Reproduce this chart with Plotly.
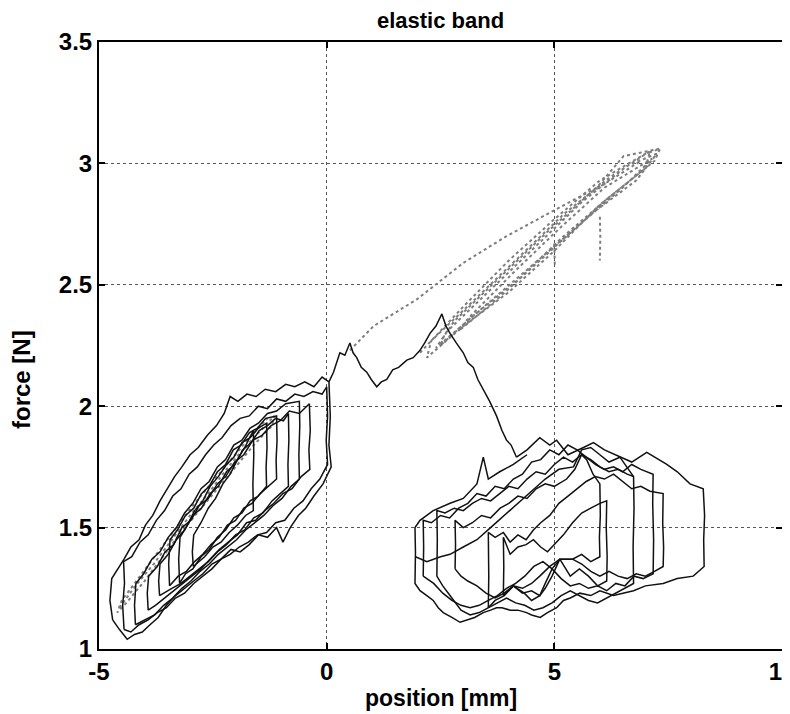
import plotly.graph_objects as go

# ---------------- data (position [mm], force [N]) ----------------
x_ticks = [-5, 0, 5, 10]
x_tick_labels = ["-5", "0", "5", "10"]
y_ticks = [1, 1.5, 2, 2.5, 3, 3.5]
y_tick_labels = ["1", "1.5", "2", "2.5", "3", "3.5"]

# left cluster of hysteresis loops (black)
left_a = [(-4.70,1.12),(-4.76,1.20),(-4.72,1.29),(-4.58,1.33),(-4.45,1.37),(-4.30,1.42),(-4.12,1.45),(-3.98,1.51),
          (-3.82,1.55),(-3.66,1.61),(-3.50,1.66),(-3.34,1.71),(-3.18,1.75),(-3.00,1.80),(-2.82,1.83),(-2.62,1.88),
          (-2.42,1.92),(-2.25,1.97),(-2.12,2.04),(-1.95,2.02),(-1.75,2.05),(-1.55,2.04),(-1.35,2.07),(-1.12,2.06),
          (-0.90,2.09),(-0.70,2.08),(-0.48,2.10),(-0.28,2.08),(-0.10,2.12),(0.05,2.10),(0.08,1.96),(0.05,1.84),
          (0.10,1.75),(-0.08,1.68),(-0.28,1.63),(-0.46,1.58),(-0.62,1.55),(-0.80,1.50),(-0.96,1.44),(-1.10,1.50),
          (-1.30,1.46),(-1.50,1.47),(-1.70,1.43),(-1.90,1.40),(-2.10,1.41),(-2.32,1.37),(-2.52,1.35),(-2.72,1.31),
          (-2.92,1.28),(-3.12,1.25),(-3.32,1.22),(-3.52,1.18),(-3.70,1.13),(-3.88,1.10),(-4.05,1.07),(-4.22,1.06),
          (-4.38,1.04),(-4.55,1.08),(-4.70,1.12)]
left_b = [(-3.92,1.16),(-3.94,1.23),(-3.91,1.30),(-3.72,1.34),(-3.55,1.40),(-3.36,1.43),(-3.18,1.50),(-2.98,1.53),
          (-2.80,1.59),(-2.60,1.62),(-2.40,1.68),(-2.22,1.71),(-2.02,1.77),(-1.82,1.80),(-1.62,1.86),(-1.42,1.88),
          (-1.22,1.92),(-1.02,1.94),(-0.82,1.98),(-0.60,1.97),(-0.38,2.01),(-0.36,1.90),(-0.39,1.82),(-0.37,1.74),
          (-0.56,1.71),(-0.76,1.66),(-0.96,1.64),(-1.16,1.60),(-1.36,1.57),(-1.56,1.53),(-1.76,1.52),(-1.96,1.47),
          (-2.16,1.44),(-2.36,1.41),(-2.56,1.37),(-2.76,1.33),(-2.96,1.30),(-3.16,1.27),(-3.36,1.24),(-3.56,1.21),
          (-3.76,1.18),(-3.92,1.16)]
left_c = [(-3.67,1.22),(-3.69,1.28),(-3.66,1.35),(-3.48,1.39),(-3.30,1.45),(-3.12,1.49),(-2.94,1.55),(-2.75,1.58),
          (-2.56,1.64),(-2.38,1.67),(-2.20,1.73),(-2.02,1.76),(-1.84,1.82),(-1.66,1.85),(-1.48,1.90),(-1.30,1.92),
          (-1.12,1.95),(-0.95,1.94),(-0.84,1.97),(-0.83,1.86),(-0.85,1.76),(-0.84,1.67),(-1.02,1.64),(-1.20,1.61),
          (-1.40,1.56),(-1.60,1.54),(-1.80,1.49),(-2.00,1.47),(-2.20,1.43),(-2.40,1.40),(-2.60,1.36),(-2.80,1.33),
          (-3.00,1.30),(-3.20,1.27),(-3.40,1.25),(-3.67,1.22)]
left_d = [(-3.45,1.26),(-3.47,1.35),(-3.44,1.45),(-3.28,1.49),(-3.10,1.55),(-2.92,1.58),(-2.75,1.64),(-2.58,1.67),
          (-2.40,1.73),(-2.22,1.76),(-2.05,1.82),(-1.88,1.84),(-1.70,1.89),(-1.52,1.91),(-1.34,1.95),(-1.10,1.96),
          (-1.09,1.86),(-1.11,1.78),(-1.10,1.70),(-1.28,1.67),(-1.46,1.64),(-1.64,1.60),(-1.82,1.58),(-2.00,1.53),
          (-2.18,1.51),(-2.36,1.46),(-2.54,1.43),(-2.72,1.39),(-2.90,1.36),(-3.08,1.32),(-3.26,1.30),(-3.45,1.26)]
left_e = [(-3.23,1.27),(-3.25,1.37),(-3.22,1.46),(-3.06,1.51),(-2.90,1.57),(-2.72,1.61),(-2.56,1.67),(-2.38,1.71),
          (-2.20,1.76),(-2.04,1.79),(-1.86,1.85),(-1.68,1.87),(-1.50,1.91),(-1.32,1.93),(-1.31,1.83),(-1.33,1.75),
          (-1.32,1.67),(-1.50,1.63),(-1.68,1.61),(-1.86,1.56),(-2.04,1.54),(-2.22,1.49),(-2.40,1.46),(-2.58,1.41),
          (-2.76,1.38),(-2.94,1.33),(-3.10,1.31),(-3.23,1.27)]
left_f = [(-2.93,1.34),(-2.95,1.40),(-2.92,1.47),(-2.76,1.52),(-2.60,1.58),(-2.44,1.62),(-2.28,1.68),(-2.12,1.72),
          (-1.96,1.78),(-1.80,1.83),(-1.61,1.90),(-1.60,1.80),(-1.62,1.68),(-1.61,1.57),(-1.78,1.55),(-1.96,1.51),
          (-2.14,1.48),(-2.32,1.44),(-2.50,1.42),(-2.68,1.38),(-2.93,1.34)]
left_g = [(-4.45,1.08),(-4.48,1.18),(-4.44,1.27),(-4.46,1.36),(-4.28,1.38),(-4.10,1.44),(-3.92,1.47),(-3.74,1.53),
          (-3.56,1.57),(-3.38,1.63),(-3.20,1.66),(-3.02,1.72),(-2.84,1.75),(-2.66,1.80),(-2.48,1.84),(-2.30,1.87),
          (-2.10,1.92),(-1.90,1.95),(-1.70,1.96),(-1.50,2.00),(-1.30,1.99),(-1.10,2.03),(-0.90,2.02),(-0.70,2.05),
          (-0.50,2.04),(-0.30,2.06),(-0.10,2.05),(0.00,2.08),(0.02,1.96),(-0.01,1.86),(0.02,1.76),(-0.15,1.70),
          (-0.34,1.66),(-0.52,1.61),(-0.72,1.58),(-0.92,1.53),(-1.12,1.52),(-1.32,1.48),(-1.52,1.47),(-1.72,1.44),
          (-1.92,1.42),(-2.12,1.39),(-2.32,1.37),(-2.52,1.33),(-2.72,1.30),(-2.92,1.27),(-3.12,1.23),(-3.32,1.21),
          (-3.52,1.17),(-3.72,1.15),(-3.92,1.12),(-4.12,1.10),(-4.30,1.07),(-4.45,1.08)]
left_h = [(-4.20,1.10),(-4.22,1.18),(-4.19,1.27),(-4.02,1.31),(-3.84,1.37),(-3.66,1.40),(-3.48,1.46),(-3.30,1.50),
          (-3.12,1.56),(-2.94,1.60),(-2.76,1.66),(-2.58,1.69),(-2.40,1.75),(-2.22,1.78),(-2.04,1.84),(-1.86,1.86),
          (-1.68,1.91),(-1.50,1.93),(-1.30,1.97),(-1.10,1.98),(-0.90,2.01),(-0.60,2.02),(-0.59,1.92),(-0.61,1.80),
          (-0.60,1.70),(-0.78,1.67),(-0.98,1.62),(-1.18,1.59),(-1.38,1.55),(-1.58,1.52),(-1.78,1.49),(-1.98,1.45),
          (-2.18,1.42),(-2.38,1.39),(-2.58,1.35),(-2.78,1.32),(-2.98,1.28),(-3.18,1.25),(-3.38,1.21),(-3.58,1.18),
          (-3.78,1.14),(-3.98,1.12),(-4.20,1.10)]

# transition from left cluster to right cluster (black)
transition = [(0.05,2.10),(0.15,2.14),(0.29,2.22),(0.40,2.21),(0.51,2.26),(0.58,2.22),(0.66,2.20),(0.76,2.16),
              (0.88,2.14),(0.98,2.11),(1.10,2.08),(1.20,2.10),(1.32,2.11),(1.45,2.15),(1.58,2.16),(1.76,2.19),
              (1.90,2.20),(2.05,2.23),(2.15,2.26),(2.27,2.30),(2.40,2.33),(2.53,2.38),(2.62,2.33),(2.71,2.30),
              (2.85,2.26),(3.00,2.22),(3.10,2.18),(3.22,2.16),(3.32,2.11),(3.44,2.07),(3.58,2.02),(3.73,1.96),
              (3.85,1.90),(3.95,1.86),(4.05,1.84),(4.17,1.79)]

# right cluster of hysteresis loops (black)
right_a = [(4.17,1.79),(4.40,1.82),(4.68,1.87),(4.90,1.84),(5.05,1.86),(5.30,1.80),(5.64,1.83),(5.86,1.85),
           (6.10,1.82),(6.44,1.79),(6.70,1.77),(7.03,1.81),(7.30,1.78),(7.47,1.76),(7.70,1.73),(7.98,1.68),
           (8.27,1.66),(8.30,1.55),(8.28,1.45),(8.29,1.34),(8.05,1.30),(7.70,1.29),(7.39,1.27),(7.00,1.26),
           (6.74,1.24),(6.50,1.23),(6.30,1.22),(6.00,1.24),(5.80,1.22),(5.56,1.23),(5.35,1.21),(5.20,1.20),
           (5.05,1.17),(4.85,1.15),(4.69,1.13),(4.50,1.14),(4.39,1.15),(4.20,1.16),(4.03,1.16),(3.85,1.17),
           (3.73,1.17),(3.60,1.16),(3.44,1.15),(3.25,1.13),(3.07,1.12),(2.93,1.11),(2.75,1.13),(2.56,1.15),
           (2.45,1.17),(2.34,1.20),(2.20,1.22),(2.05,1.24),(1.94,1.27),(1.95,1.40),(1.94,1.50),(2.05,1.53),
           (2.34,1.57),(2.71,1.60),(3.00,1.62),(3.15,1.65),(3.30,1.68),(3.44,1.79),(3.55,1.70),(3.80,1.73),
           (4.10,1.76),(4.40,1.80)]
right_b = [(2.12,1.30),(2.13,1.42),(2.12,1.53),(2.30,1.52),(2.50,1.55),(2.70,1.54),(2.90,1.58),(3.10,1.60),
           (3.30,1.64),(3.50,1.63),(3.70,1.67),(3.90,1.66),(4.10,1.70),(4.30,1.72),(4.50,1.77),(4.70,1.78),
           (4.90,1.82),(5.10,1.80),(5.30,1.84),(5.50,1.82),(5.70,1.79),(5.90,1.76),(6.10,1.74),(6.30,1.75),
           (6.50,1.73),(6.70,1.76),(6.90,1.74),(7.17,1.72),(7.16,1.60),(7.18,1.45),(7.17,1.31),(6.95,1.29),
           (6.75,1.30),(6.55,1.26),(6.35,1.27),(6.15,1.24),(5.95,1.26),(5.75,1.25),(5.55,1.27),(5.35,1.26),
           (5.15,1.29),(4.95,1.33),(4.75,1.36),(4.55,1.34),(4.35,1.30),(4.15,1.27),(3.95,1.25),(3.75,1.22),
           (3.55,1.20),(3.35,1.18),(3.15,1.17),(2.95,1.18),(2.75,1.20),(2.55,1.23),(2.35,1.27),(2.12,1.30)]
right_c = [(2.42,1.30),(2.43,1.45),(2.42,1.57),(2.60,1.56),(2.80,1.58),(3.00,1.57),(3.20,1.60),(3.40,1.62),
           (3.60,1.61),(3.80,1.64),(4.00,1.67),(4.20,1.66),(4.40,1.70),(4.60,1.73),(4.80,1.72),(5.00,1.76),
           (5.20,1.79),(5.40,1.77),(5.60,1.80),(5.80,1.78),(6.00,1.75),(6.20,1.73),(6.40,1.74),(6.60,1.72),
           (6.74,1.71),(6.75,1.58),(6.73,1.42),(6.74,1.27),(6.55,1.25),(6.35,1.23),(6.15,1.21),(5.95,1.19),
           (5.75,1.20),(5.55,1.22),(5.35,1.24),(5.15,1.22),(4.95,1.19),(4.75,1.17),(4.55,1.16),(4.35,1.18),
           (4.15,1.19),(3.95,1.21),(3.75,1.19),(3.55,1.17),(3.35,1.15),(3.15,1.14),(2.95,1.16),(2.75,1.21),
           (2.55,1.26),(2.42,1.30)]
right_d = [(2.82,1.33),(2.83,1.43),(2.82,1.53),(3.00,1.50),(3.20,1.52),(3.40,1.55),(3.60,1.54),(3.81,1.58),
           (4.00,1.60),(4.20,1.63),(4.40,1.62),(4.60,1.66),(4.80,1.68),(5.00,1.67),(5.27,1.70),(5.45,1.74),
           (5.60,1.80),(5.71,1.78),(5.85,1.72),(6.00,1.68),(6.01,1.55),(5.99,1.46),(6.00,1.38),(5.80,1.36),
           (5.60,1.39),(5.40,1.37),(5.12,1.37),(4.90,1.34),(4.68,1.30),(4.50,1.27),(4.30,1.25),(4.10,1.26),
           (3.90,1.23),(3.70,1.21),(3.50,1.23),(3.30,1.26),(3.10,1.28),(2.95,1.30),(2.82,1.33)]
right_e = [(3.55,1.17),(3.56,1.30),(3.55,1.48),(3.70,1.46),(3.88,1.48),(4.03,1.44),(4.20,1.47),(4.38,1.45),
           (4.54,1.49),(4.70,1.52),(4.90,1.55),(5.10,1.60),(5.30,1.63),(5.50,1.66),(5.70,1.69),(5.90,1.71),
           (6.10,1.70),(6.30,1.72),(6.50,1.69),(6.70,1.66),(6.90,1.67),(7.10,1.65),(7.39,1.64),(7.38,1.52),
           (7.40,1.42),(7.39,1.34),(7.20,1.32),(7.00,1.30),(6.80,1.31),(6.60,1.29),(6.40,1.30),(6.20,1.32),
           (6.00,1.30),(5.80,1.32),(5.60,1.35),(5.40,1.37),(5.12,1.37),(4.95,1.33),(4.80,1.27),(4.68,1.22),
           (4.50,1.24),(4.30,1.23),(4.10,1.26),(3.90,1.22),(3.70,1.20),(3.55,1.17)]
right_f = [(3.88,1.22),(3.89,1.34),(3.88,1.46),(4.03,1.39),(4.20,1.42),(4.38,1.43),(4.54,1.45),(4.70,1.42),
           (4.85,1.40),(5.00,1.43),(5.20,1.47),(5.40,1.52),(5.60,1.56),(5.80,1.58),(6.00,1.60),(6.15,1.61),
           (6.14,1.50),(6.16,1.38),(6.15,1.28),(5.95,1.26),(5.75,1.30),(5.55,1.33),(5.35,1.30),(5.12,1.37),
           (4.95,1.30),(4.80,1.25),(4.68,1.22),(4.50,1.20),(4.34,1.23),(4.10,1.26),(3.88,1.22)]
right_g = [(1.95,1.38),(2.20,1.36),(2.50,1.38),(2.71,1.39),(3.00,1.42),(3.30,1.45),(3.60,1.50),(3.90,1.55),
           (4.20,1.60),(4.50,1.65),(4.80,1.70),(5.10,1.74),(5.42,1.75),(5.60,1.82),(5.80,1.83),(6.00,1.80),
           (6.20,1.77),(6.44,1.79),(6.74,1.71)]

# grey dotted traces
grey_left = [(-4.55,1.17),(-4.20,1.26),(-3.80,1.35),(-3.40,1.45),(-3.00,1.55),(-2.60,1.64),(-2.20,1.74),(-1.80,1.83),
             (-1.40,1.91),(-1.15,1.96),(-1.20,1.92),(-1.60,1.84),(-2.00,1.75),(-2.40,1.66),(-2.80,1.57),(-3.20,1.48),
             (-3.60,1.38),(-4.00,1.28),(-4.40,1.19),(-4.60,1.15),(-4.50,1.20),(-4.10,1.30),(-3.70,1.40),(-3.30,1.50),
             (-2.90,1.60),(-2.50,1.69),(-2.10,1.78),(-1.70,1.87),(-1.30,1.95)]
grey_band = [(2.05,2.22),(3.00,2.41),(4.00,2.60),(5.00,2.77),(6.00,2.93),(7.00,3.04),(7.32,3.06),
             (7.20,3.01),(6.00,2.83),(5.00,2.64),(4.00,2.47),(3.00,2.33),(2.20,2.20),
             (2.30,2.27),(3.20,2.43),(4.20,2.61),(5.20,2.79),(6.20,2.94),(7.10,3.05),
             (7.00,2.98),(6.20,2.86),(5.20,2.70),(4.20,2.52),(3.20,2.37),(2.50,2.25),
             (2.60,2.30),(3.60,2.48),(4.60,2.66),(5.60,2.84),(6.60,2.99),(7.25,3.04),
             (6.80,2.93),(5.80,2.79),(4.80,2.62),(3.80,2.45),(2.90,2.31),
             (3.10,2.36),(4.10,2.55),(5.10,2.73),(6.10,2.90),(7.15,3.02),
             (6.50,2.90),(5.50,2.74),(4.50,2.58),(3.50,2.42),(2.40,2.24),
             (2.80,2.35),(3.80,2.53),(4.80,2.71),(5.80,2.88),(6.90,3.01)]
grey_upper = [(0.51,2.23),(1.03,2.33),(1.98,2.44),(3.00,2.59),(3.60,2.66),(3.95,2.70),(4.83,2.79),(5.93,2.90),
              (6.52,3.03),(7.30,3.06)]
grey_drop_6 = [(6.00,2.78),(6.01,2.70),(6.00,2.60)]
grey_drop_5 = [(5.00,2.67),(5.01,2.58)]

black_loops = [left_a, left_b, left_c, left_d, left_e, left_f, left_g, left_h, transition,
               right_a, right_b, right_c, right_d, right_e, right_f, right_g]
grey_traces = [grey_left, grey_band, grey_upper, grey_drop_6, grey_drop_5]

# ---------------- figure ----------------
fig = go.Figure()
for pts in grey_traces:
    fig.add_trace(go.Scatter(x=[p[0] for p in pts], y=[p[1] for p in pts], mode="lines",
                             line=dict(color="#7d7d7d", width=2.0, dash="dot"), hoverinfo="skip"))
for pts in black_loops:
    fig.add_trace(go.Scatter(x=[p[0] for p in pts], y=[p[1] for p in pts], mode="lines",
                             line=dict(color="#111111", width=1.5), hoverinfo="skip"))

FONT = "Liberation Sans, Arial, Helvetica, sans-serif"
axis_common = dict(showline=True, linecolor="black", linewidth=2, mirror="ticks",
                   ticks="inside", ticklen=6, tickwidth=1.5, tickcolor="black",
                   showgrid=True, gridcolor="#555555", gridwidth=1, griddash="dot",
                   zeroline=False, ticklabeloverflow="allow",
                   tickfont=dict(family=FONT, size=24, color="black", weight="bold"))
fig.update_xaxes(range=[-5, 10], tickvals=x_ticks, ticktext=x_tick_labels, ticklabelstandoff=0, **axis_common)
fig.update_yaxes(range=[1, 3.5], tickvals=y_ticks, ticktext=y_tick_labels, ticklabelstandoff=0, **axis_common)

# the page body adds an 8px offset; the figure is sized so that the plot area
# lands at x 99-782, y 42-649 of the 790x714 window
fig.update_layout(
    width=790, height=706,
    margin=dict(l=91, r=16, t=34, b=65, autoexpand=False),
    paper_bgcolor="white", plot_bgcolor="white",
    showlegend=False,
    font=dict(family=FONT, size=23, color="black"),
    title=dict(text="elastic band", xref="paper", x=0.5, xanchor="center", yref="container",
               y=1 - 12 / 706, yanchor="middle",
               font=dict(family=FONT, size=22, color="black", weight="bold")),
    annotations=[
        dict(text="position [mm]", xref="paper", yref="paper", x=0.5, y=-49 / 607,
             xanchor="center", yanchor="middle", showarrow=False,
             font=dict(family=FONT, size=23, color="black", weight="bold")),
        dict(text="force [N]", xref="paper", yref="paper", x=-78 / 683, y=(649 - 380) / 607,
             xanchor="center", yanchor="middle", textangle=-90, showarrow=False,
             font=dict(family=FONT, size=24, color="black", weight="bold")),
    ],
)

fig.write_html("out.html")
